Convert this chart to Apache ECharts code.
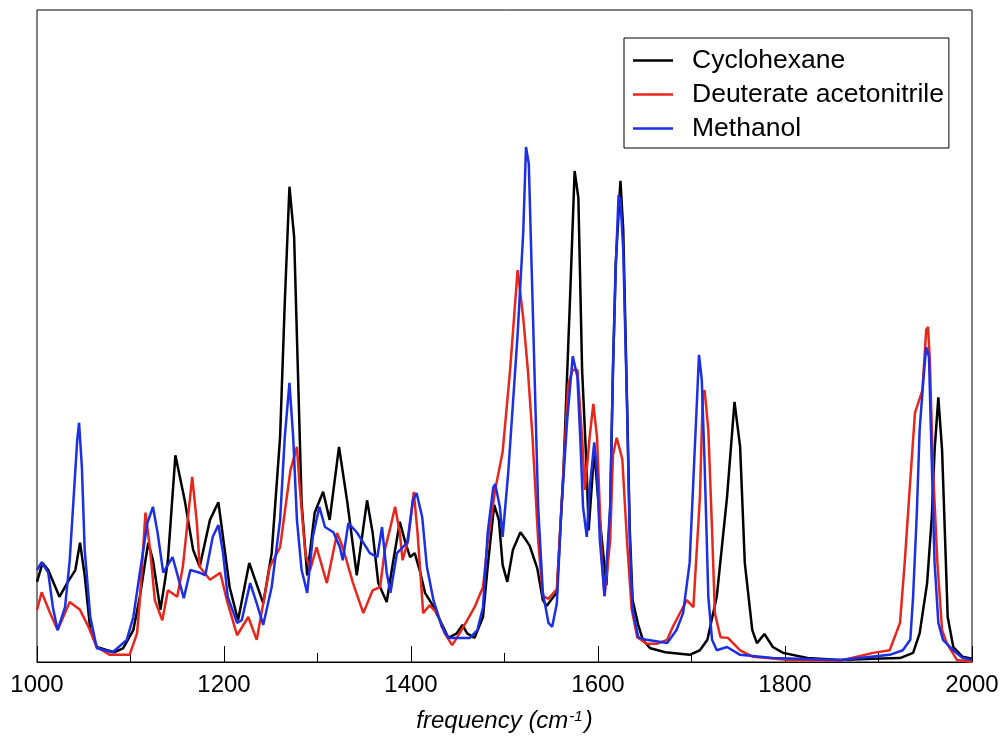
<!DOCTYPE html>
<html>
<head>
<meta charset="utf-8">
<script src="https://cdn.jsdelivr.net/npm/echarts@6/dist/echarts.min.js"></script>
<style>
html,body{margin:0;padding:0;background:#fff;}
#chart{width:1003px;height:740px;}
</style>
</head>
<body>
<div id="chart"></div>
<script>
// [frequency (cm-1), intensity (arbitrary, 0-100)]
var seriesNames = ['Cyclohexane', 'Deuterate acetonitrile', 'Methanol'];

var cyclohexane = [
[1000,12.3],[1006,15.2],[1012,14.1],[1024,10.0],[1033,12.3],[1041,14.1],[1046,18.3],[1051,13.3],
[1057,4.9],[1064,2.3],[1075,1.8],[1083,1.5],[1092,2.1],[1103,4.9],[1110,10.0],[1116,15.6],
[1119,18.3],[1124,15.6],[1132,8.0],[1137,12.6],[1140,15.6],[1148,31.7],[1158,24.8],[1167,17.2],
[1174,14.6],[1185,21.8],[1194,24.5],[1206,11.5],[1215,6.4],[1227,15.2],[1242,9.0],[1251,16.7],
[1260,34.5],[1265,55.1],[1270,72.9],[1275,65.2],[1279,44.8],[1283,24.4],[1289,13.3],[1297,22.9],
[1306,26.1],[1313,21.8],[1323,33.0],[1332,24.4],[1342,13.3],[1353,24.8],[1359,19.8],[1365,12.1],
[1374,9.2],[1380,14.6],[1388,21.5],[1394,18.3],[1399,16.1],[1404,16.7],[1410,13.7],[1415,10.6],
[1422,9.0],[1431,6.4],[1440,3.7],[1449,4.4],[1455,5.7],[1460,4.4],[1468,3.7],[1477,6.9],
[1482,14.6],[1489,24.1],[1494,21.8],[1498,14.9],[1503,12.3],[1509,17.2],[1517,19.9],[1523,18.7],
[1527,17.8],[1535,14.4],[1541,9.5],[1545,8.6],[1556,10.7],[1563,29.1],[1570,55.4],[1575,75.3],
[1579,71.2],[1583,44.8],[1588,29.1],[1590,20.2],[1596,32.5],[1602,21.8],[1609,11.8],[1613,23.3],
[1616,44.8],[1619,61.2],[1624,73.8],[1627,66.3],[1631,40.2],[1634,20.2],[1637,9.5],[1643,5.7],
[1648,3.4],[1656,2.1],[1672,1.5],[1698,1.1],[1709,1.8],[1717,3.4],[1727,10.0],[1738,25.3],
[1746,39.9],[1752,33.0],[1757,15.2],[1765,4.9],[1770,2.9],[1778,4.3],[1787,2.3],[1798,1.4],
[1824,0.6],[1859,0.3],[1894,0.5],[1923,0.6],[1937,1.4],[1944,4.4],[1952,12.1],[1957,22.2],
[1960,32.5],[1964,40.6],[1968,32.5],[1971,19.8],[1974,6.9],[1980,2.3],[1990,0.8],[2000,0.5]
];

var acetonitrileD = [
[1000,8.0],[1005,10.7],[1014,7.5],[1022,4.9],[1029,7.2],[1035,9.2],[1046,8.0],[1055,5.4],
[1064,2.3],[1078,1.1],[1099,1.1],[1107,4.4],[1110,9.5],[1116,22.9],[1121,17.2],[1126,9.5],
[1134,6.4],[1140,11.0],[1150,10.0],[1156,14.6],[1166,28.4],[1171,21.3],[1174,14.6],[1185,12.6],
[1196,13.7],[1203,9.5],[1214,4.1],[1226,6.9],[1235,3.4],[1249,14.6],[1260,17.6],[1271,29.4],
[1278,33.0],[1281,26.8],[1287,16.7],[1292,14.1],[1299,17.6],[1310,12.1],[1321,19.8],[1327,17.6],
[1338,12.1],[1349,7.5],[1359,11.0],[1367,11.5],[1372,17.2],[1378,20.7],[1383,23.8],[1388,19.8],
[1391,15.6],[1397,18.7],[1403,26.1],[1407,19.8],[1413,7.5],[1420,8.7],[1428,7.5],[1436,4.4],
[1444,2.6],[1452,4.4],[1460,6.4],[1468,8.4],[1477,11.5],[1482,18.3],[1490,26.4],[1498,32.2],
[1506,44.8],[1514,60.1],[1520,52.8],[1525,44.8],[1530,34.4],[1536,18.6],[1541,10.1],[1547,9.7],
[1556,11.2],[1563,29.1],[1568,42.5],[1573,44.8],[1578,44.8],[1583,34.4],[1586,26.4],[1591,34.4],
[1595,39.6],[1599,34.4],[1604,16.0],[1607,10.1],[1613,18.6],[1616,31.7],[1620,34.4],[1626,31.1],
[1631,18.6],[1636,8.1],[1642,3.8],[1652,2.8],[1663,2.8],[1674,3.4],[1680,5.4],[1695,9.5],
[1702,8.4],[1709,25.3],[1712,40.6],[1714,41.7],[1718,35.6],[1722,20.2],[1725,7.5],[1731,3.8],
[1739,3.7],[1752,1.8],[1766,0.8],[1805,0.3],[1859,0.2],[1894,1.4],[1912,1.8],[1923,6.0],
[1928,15.2],[1934,27.9],[1939,38.2],[1947,41.7],[1951,50.9],[1953,51.4],[1955,45.9],[1958,30.5],
[1963,15.2],[1968,4.9],[1973,2.9],[1984,0.3],[2000,0.0]
];

var methanol = [
[1000,14.1],[1005,15.3],[1012,13.7],[1017,8.4],[1022,4.9],[1030,8.4],[1035,15.6],[1039,24.8],
[1043,34.0],[1045,36.7],[1048,29.9],[1051,17.2],[1057,6.9],[1064,2.1],[1081,1.5],[1096,3.4],
[1103,6.9],[1110,13.7],[1118,21.3],[1124,23.8],[1129,19.8],[1135,13.7],[1145,16.1],[1157,9.8],
[1164,14.1],[1174,13.7],[1180,13.3],[1188,19.2],[1194,21.0],[1199,16.7],[1204,10.0],[1214,6.0],
[1219,6.4],[1228,12.1],[1235,9.0],[1242,5.7],[1251,11.5],[1260,21.8],[1265,34.5],[1270,42.8],
[1274,34.5],[1278,21.8],[1283,14.1],[1289,10.6],[1295,19.2],[1302,23.8],[1308,20.7],[1317,19.9],
[1324,17.6],[1327,15.6],[1333,21.3],[1342,19.9],[1356,16.7],[1364,16.1],[1369,20.7],[1374,13.7],
[1378,10.6],[1385,16.7],[1396,18.3],[1402,24.8],[1406,25.9],[1412,22.2],[1417,14.6],[1424,9.5],
[1433,5.4],[1440,3.7],[1463,3.7],[1471,4.9],[1477,8.4],[1482,19.8],[1488,26.8],[1490,27.3],
[1495,23.8],[1498,19.2],[1504,29.1],[1509,39.6],[1514,50.2],[1520,65.8],[1523,79.0],[1526,76.4],
[1529,60.6],[1533,39.6],[1536,23.8],[1541,10.7],[1547,6.0],[1551,5.4],[1556,9.0],[1561,23.8],
[1567,37.0],[1573,46.9],[1578,43.7],[1581,34.4],[1584,23.8],[1588,19.2],[1591,26.4],[1596,33.7],
[1599,29.1],[1602,18.6],[1607,10.1],[1613,23.8],[1616,44.8],[1619,60.6],[1622,71.6],[1624,70.9],
[1627,63.2],[1631,39.6],[1634,18.6],[1637,8.1],[1643,3.8],[1652,3.4],[1674,2.9],[1684,4.9],
[1691,7.5],[1698,15.2],[1702,27.9],[1706,40.6],[1708,47.1],[1711,43.3],[1714,30.5],[1718,10.0],
[1722,3.4],[1727,1.8],[1738,2.3],[1752,1.1],[1787,0.6],[1859,0.3],[1912,1.1],[1926,1.8],
[1934,3.4],[1937,10.0],[1941,22.9],[1944,35.6],[1948,43.3],[1951,48.3],[1954,46.8],[1957,30.5],
[1960,15.2],[1964,6.0],[1969,3.4],[1980,1.8],[1990,0.6],[2000,0.3]
];

var seriesData = [cyclohexane, acetonitrileD, methanol];
var seriesColors = ['#000000', '#e8261c', '#1b2fe6'];

var FONT = "'Liberation Sans', Arial, Helvetica, sans-serif";
var chart = echarts.init(document.getElementById('chart'), null, {renderer: 'canvas'});

chart.setOption({
  animation: false,
  backgroundColor: '#ffffff',
  grid: {
    left: 37, right: 31, top: 10, bottom: 78,
    show: true, borderColor: '#000', borderWidth: 1, containLabel: false
  },
  legend: {
    data: seriesNames,
    orient: 'vertical',
    left: 624, top: 38,
    padding: [9, 5, 6, 9],
    itemGap: 7,
    itemWidth: 40,
    itemHeight: 2.5,
    icon: 'rect',
    backgroundColor: '#fff',
    borderColor: '#000',
    borderWidth: 1,
    borderRadius: 0,
    textStyle: {fontFamily: FONT, fontSize: 26.5, color: '#000', lineHeight: 26.5, padding: [0, 0, 0, 14]}
  },
  xAxis: {
    type: 'value',
    min: 1000, max: 2000, interval: 200,
    axisLine: {show: true, lineStyle: {color: '#000', width: 1}},
    axisTick: {show: true, inside: true, length: 16, lineStyle: {color: '#000', width: 1}},
    minorTick: {show: true, splitNumber: 2, length: 9, lineStyle: {color: '#000', width: 1}},
    splitLine: {show: false},
    axisLabel: {fontFamily: FONT, fontSize: 24, color: '#000', margin: 11,
      formatter: function (v) { return String(v); }},
    name: '{a|frequency (cm}{s|-1}{a|)}',
    nameLocation: 'middle',
    nameGap: 47,
    nameTextStyle: {
      fontFamily: FONT, fontSize: 24, color: '#000',
      rich: {
        a: {fontFamily: FONT, fontSize: 24, fontStyle: 'italic', color: '#000'},
        s: {fontFamily: FONT, fontSize: 15, fontStyle: 'italic', color: '#000', verticalAlign: 'top', padding: [0, 2, 8, 1]}
      }
    }
  },
  yAxis: {
    type: 'value', min: 0, max: 100,
    show: false
  },
  series: seriesNames.map(function (n, i) {
    return {
      name: n,
      type: 'line',
      data: seriesData[i],
      symbol: 'none',
      smooth: false,
      color: seriesColors[i],
      lineStyle: {color: seriesColors[i], width: 2.5},
      z: 2 + i
    };
  })
});
</script>
</body>
</html>
